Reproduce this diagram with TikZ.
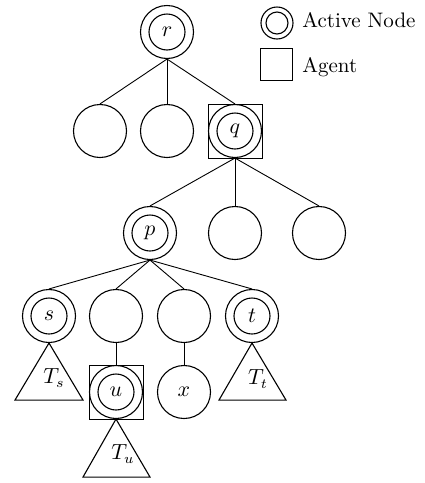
\documentclass[tikz,border=0pt]{standalone}
\begin{document}
\begin{tikzpicture}[x=0.5pt,y=-0.5pt,
  every node/.style={font=\fontsize{10.5}{12}\selectfont},
  vert/.style={circle,draw,line width=0.55pt,minimum size=26.5pt,inner sep=0pt},
  core/.style={circle,draw,line width=0.55pt,minimum size=18pt,inner sep=0pt},
  agent/.style={draw,line width=0.5pt,minimum size=27pt,inner sep=0pt},
  edge/.style={line width=0.45pt},
  subtree/.style={line width=0.55pt,line join=miter}]
\useasboundingbox (0,0) rectangle (424,483);

% legend
\node[circle,draw,line width=0.55pt,minimum size=16pt,inner sep=0pt] (lgA) at (277,23) {};
\node[circle,draw,line width=0.55pt,minimum size=11pt,inner sep=0pt] at (lgA) {};
\node[anchor=base west,inner sep=0pt] (lgAt) at (302,27) {Active Node};
\node[draw,line width=0.5pt,minimum size=16pt,inner sep=0pt] (lgB) at (276,64) {};
\node[anchor=base west,inner sep=0pt] (lgBt) at (302,72) {Agent};

% root
\node[vert] (r) at (167,32) {};
\node[core] at (r) {$r$};

% second level
\node[vert] (a1) at (100,131) {};
\node[vert] (a2) at (167,131) {};
\node[vert] (q) at (235,131) {};
\node[core] at (q) {$q$};
\node[agent] (qag) at (q) {};

% third level
\node[vert] (p) at (150,233) {};
\node[core] at (p) {$p$};
\node[vert] (b2) at (235,233) {};
\node[vert] (b3) at (319,233) {};

% fourth level
\node[vert] (s) at (49,316) {};
\node[core] at (s) {$s$};
\node[vert] (c2) at (116,316) {};
\node[vert] (c3) at (184,316) {};
\node[vert] (t) at (252,316) {};
\node[core] at (t) {$t$};

% fifth level
\node[vert] (u) at (116,392) {};
\node[core] at (u) {$u$};
\node[agent] (uag) at (u) {};
\node[vert] (x) at (184,392) {$x$};

% edges
\foreach \c in {a1,a2,q} \draw[edge] (r.south) -- (\c.north);
\foreach \c in {p,b2,b3} \draw[edge] (q.south) -- (\c.north);
\foreach \c in {s,c2,c3,t} \draw[edge] (p.south) -- (\c.north);
\draw[edge] (c2.south) -- (u.north);
\draw[edge] (c3.south) -- (x.north);

% subtrees
\draw[subtree] (s.south) -- ++(-34,57) -- ++(68,0) -- cycle;
\node (Ts) at (54,378) {$T_s$};
\draw[subtree] (t.south) -- ++(-33,57) -- ++(67,0) -- cycle;
\node (Tt) at (258,379) {$T_t$};
\draw[subtree] (u.south) -- ++(-33,58) -- ++(67,0) -- cycle;
\node (Tu) at (123,454) {$T_u$};
\end{tikzpicture}
\end{document}
